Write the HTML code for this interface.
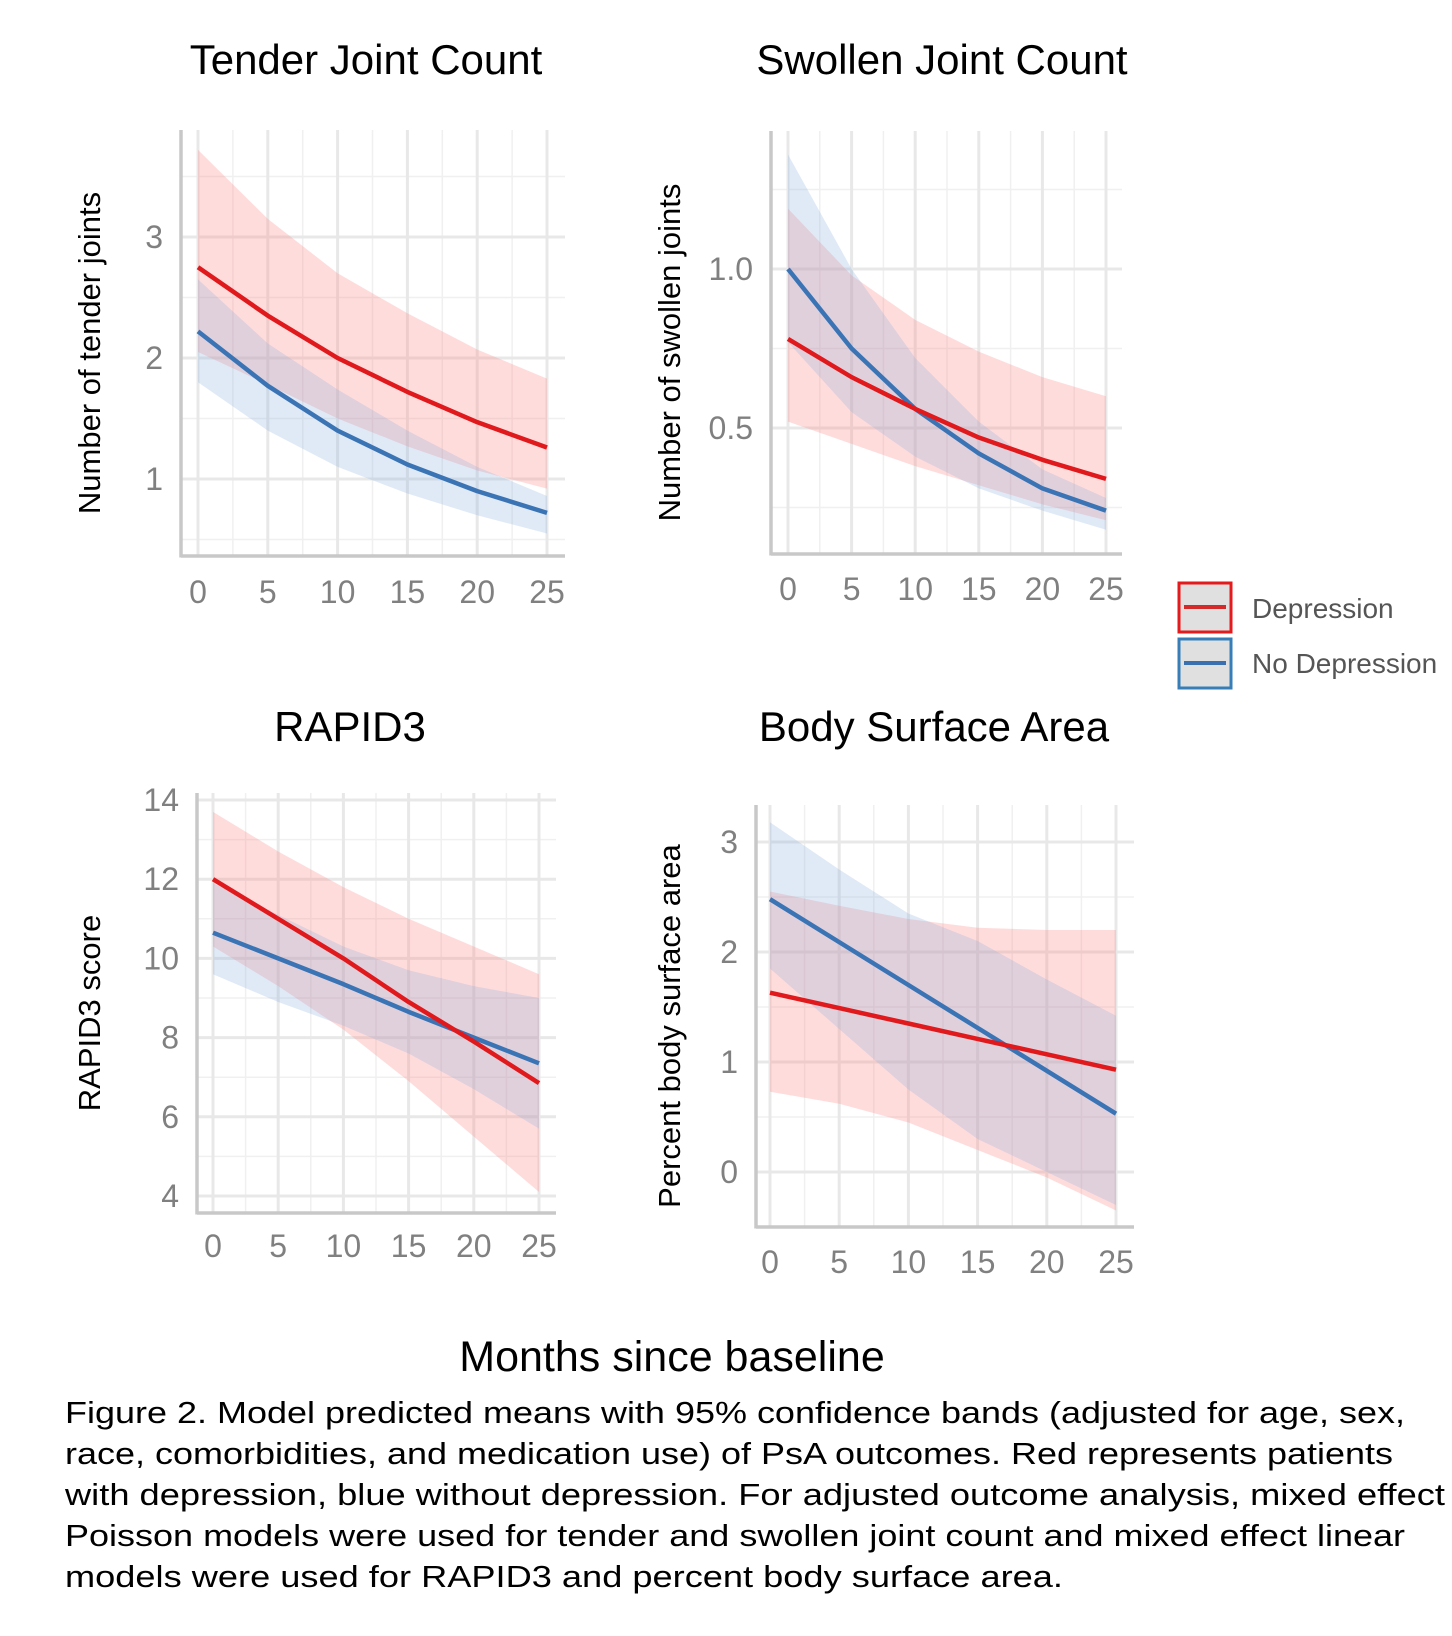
<!DOCTYPE html>
<html><head><meta charset="utf-8"><style>
html,body{margin:0;padding:0;background:#fff;}
svg{display:block;font-family:"Liberation Sans",Arial,sans-serif;}
</style></head><body>
<svg id="fig" width="1452" height="1636" viewBox="0 0 1452 1636">
<g id="panels"></g>
<g>
 <rect x="1179" y="583" width="52" height="49" fill="#e0e0e0" stroke="#e41a1c" stroke-width="3"/>
 <line x1="1184" y1="607" x2="1226" y2="607" stroke="#d42a2a" stroke-width="4"/>
 <rect x="1179" y="639" width="52" height="49" fill="#e0e0e0" stroke="#377eb8" stroke-width="3"/>
 <line x1="1184" y1="663" x2="1226" y2="663" stroke="#3a6fb0" stroke-width="4"/>
 <text x="1252" y="618" font-size="28" fill="#555">Depression</text>
 <text x="1252" y="673" font-size="28" fill="#555">No Depression</text>
</g>
<text x="672" y="1371" font-size="43" text-anchor="middle" fill="#000">Months since baseline</text>
<g font-size="31" fill="#000">
 <text x="65" y="1423" textLength="1340" lengthAdjust="spacingAndGlyphs">Figure 2. Model predicted means with 95% confidence bands (adjusted for age, sex,</text>
 <text x="65" y="1464" textLength="1328" lengthAdjust="spacingAndGlyphs">race, comorbidities, and medication use) of PsA outcomes. Red represents patients</text>
 <text x="65" y="1505" textLength="1380" lengthAdjust="spacingAndGlyphs">with depression, blue without depression.  For adjusted outcome analysis, mixed effect</text>
 <text x="65" y="1546" textLength="1340" lengthAdjust="spacingAndGlyphs">Poisson models were used for tender and swollen joint count and mixed effect linear</text>
 <text x="65" y="1587" textLength="998" lengthAdjust="spacingAndGlyphs">models were used for RAPID3 and percent body surface area.</text>
</g>
</svg>
<script>
const months = [0,5,10,15,20,25];
// Tender joint count
const tjcDep = [2.75,2.35,2.0,1.72,1.47,1.26];
const tjcDepHi = [3.72,3.15,2.7,2.37,2.07,1.83];
const tjcDepLo = [2.05,1.78,1.5,1.27,1.07,0.92];
const tjcNo = [2.22,1.77,1.4,1.12,0.9,0.72];
const tjcNoHi = [2.65,2.12,1.74,1.4,1.1,0.86];
const tjcNoLo = [1.8,1.4,1.1,0.88,0.7,0.55];
const tjcTicks = [1,2,3];
// Swollen joint count
const sjcDep = [0.78,0.66,0.56,0.47,0.4,0.34];
const sjcDepHi = [1.19,0.98,0.84,0.74,0.66,0.6];
const sjcDepLo = [0.52,0.45,0.38,0.32,0.26,0.21];
const sjcNo = [1.0,0.75,0.56,0.42,0.31,0.24];
const sjcNoHi = [1.36,1.0,0.72,0.52,0.37,0.28];
const sjcNoLo = [0.77,0.55,0.41,0.31,0.24,0.18];
const sjcTicks = [0.5,1.0];
// RAPID3
const rapDep = [12.0,11.0,10.0,8.9,7.9,6.85];
const rapDepHi = [13.7,12.7,11.8,11.0,10.3,9.6];
const rapDepLo = [10.3,9.3,8.2,6.9,5.5,4.1];
const rapNo = [10.65,10.0,9.35,8.65,8.0,7.35];
const rapNoHi = [11.9,11.1,10.3,9.7,9.3,9.0];
const rapNoLo = [9.6,8.9,8.3,7.6,6.7,5.7];
const rapTicks = [4,6,8,10,12,14];
// Body surface area
const bsaDep = [1.63,1.49,1.35,1.21,1.07,0.93];
const bsaDepHi = [2.55,2.42,2.3,2.22,2.2,2.2];
const bsaDepLo = [0.73,0.62,0.45,0.2,-0.05,-0.35];
const bsaNo = [2.48,2.09,1.7,1.31,0.92,0.53];
const bsaNoHi = [3.18,2.75,2.35,2.1,1.75,1.42];
const bsaNoLo = [1.85,1.3,0.75,0.3,0.0,-0.3];
const bsaTicks = [0,1,2,3];
const xTicks = [0,5,10,15,20,25];

const NS='http://www.w3.org/2000/svg';
function mk(tag,attrs,parent){const e=document.createElementNS(NS,tag);for(const k in attrs)e.setAttribute(k,attrs[k]);parent.appendChild(e);return e;}
const root=document.getElementById('panels');

const panels=[
 {key:'tender',title:'Tender Joint Count',tx:366,ty:74,ytitle:'Number of tender joints',ytx:100,
  ax:181,ab:556,top:130,right:565,x0:198,x25:547,yv1:1,yp1:479,yv2:3,yp2:237,
  ticks:tjcTicks,fmt:v=>String(v),minor:[0.5,1.5,2.5,3.5],
  dep:tjcDep,depHi:tjcDepHi,depLo:tjcDepLo,no:tjcNo,noHi:tjcNoHi,noLo:tjcNoLo,xlab:592},
 {key:'swollen',title:'Swollen Joint Count',tx:942,ty:74,ytitle:'Number of swollen joints',ytx:680,
  ax:771,ab:554,top:131,right:1122,x0:788,x25:1106,yv1:0.5,yp1:428,yv2:1.0,yp2:269,
  ticks:sjcTicks,fmt:v=>v.toFixed(1),minor:[0.25,0.75,1.25],
  dep:sjcDep,depHi:sjcDepHi,depLo:sjcDepLo,no:sjcNo,noHi:sjcNoHi,noLo:sjcNoLo,xlab:589},
 {key:'rapid3',title:'RAPID3',tx:350,ty:741,ytitle:'RAPID3 score',ytx:100,
  ax:197,ab:1213,top:793,right:556,x0:213,x25:539,yv1:4,yp1:1196,yv2:14,yp2:800,
  ticks:rapTicks,fmt:v=>String(v),minor:[5,7,9,11,13],
  dep:rapDep,depHi:rapDepHi,depLo:rapDepLo,no:rapNo,noHi:rapNoHi,noLo:rapNoLo,xlab:1246},
 {key:'bsa',title:'Body Surface Area',tx:934,ty:741,ytitle:'Percent body surface area',ytx:680,
  ax:756,ab:1227,top:805,right:1134,x0:770,x25:1116,yv1:0,yp1:1172,yv2:3,yp2:842,
  ticks:bsaTicks,fmt:v=>String(v),minor:[-0.5,0.5,1.5,2.5],
  dep:bsaDep,depHi:bsaDepHi,depLo:bsaDepLo,no:bsaNo,noHi:bsaNoHi,noLo:bsaNoLo,xlab:1262}
];

panels.forEach(p=>{
 const g=mk('g',{},root);
 
 
 const X=v=>p.x0+(v-months[0])*(p.x25-p.x0)/25;
 const Y=v=>p.yp1+(v-p.yv1)*(p.yp2-p.yp1)/(p.yv2-p.yv1);
 const gl=mk('g',{},g);
 
 
 p.minor.forEach(v=>{const y=Y(v);if(y>p.top&&y<p.ab)mk('line',{x1:p.ax,x2:p.right,y1:y,y2:y,stroke:'#f0f0f0','stroke-width':1.5},gl);});
 [2.5,7.5,12.5,17.5,22.5].forEach(v=>mk('line',{x1:X(v),x2:X(v),y1:p.top,y2:p.ab,stroke:'#f0f0f0','stroke-width':1.5},gl));
 p.ticks.forEach(v=>mk('line',{x1:p.ax,x2:p.right,y1:Y(v),y2:Y(v),stroke:'#e8e8e8','stroke-width':3},gl));
 xTicks.forEach(v=>mk('line',{x1:X(v),x2:X(v),y1:p.top,y2:p.ab,stroke:'#e8e8e8','stroke-width':3},gl));
 const band=(hi,lo,fill,name)=>{
  let d='M'+months.map((m,i)=>X(m)+','+Y(hi[i])).join(' L');
  d+=' L'+months.slice().reverse().map((m,j)=>{const i=months.length-1-j;return X(m)+','+Y(lo[i]);}).join(' L')+' Z';
  const e=mk('path',{d:d,fill:fill},g);
  
  
 };
 band(p.depHi,p.depLo,'rgba(255,140,140,0.3)','band-depression');
 band(p.noHi,p.noLo,'rgba(130,170,220,0.25)','band-no-depression');
 const line=(vals,col,name)=>{
  const e=mk('polyline',{points:months.map((m,i)=>X(m)+','+Y(vals[i])).join(' '),fill:'none',stroke:col,'stroke-width':4.5,'stroke-linejoin':'round'},g);
  
  
 };
 line(p.no,'#3a74b5','line-no-depression');
 line(p.dep,'#e0191c','line-depression');
 mk('line',{x1:p.ax,x2:p.ax,y1:p.top,y2:p.ab+1.5,stroke:'#c8c8c8','stroke-width':3.5},g);
 mk('line',{x1:p.ax,x2:p.right,y1:p.ab,y2:p.ab,stroke:'#c8c8c8','stroke-width':3.5},g);
 p.ticks.forEach(v=>{
  const t=mk('text',{x:p.ax-18,y:Y(v)+11,'font-size':32,'text-anchor':'end',fill:'#808080'},g);
  t.textContent=p.fmt(v);
  
  
 });
 xTicks.forEach(v=>{
  const t=mk('text',{x:X(v),y:p.xlab+11,'font-size':32,'text-anchor':'middle',fill:'#808080'},g);
  t.textContent=String(v);
  
  
 });
 const tt=mk('text',{x:p.tx,y:p.ty,'font-size':42,'text-anchor':'middle',fill:'#000'},g);
 tt.textContent=p.title;
 
 
 const cy=(p.top+p.ab)/2+10;
 const yt=mk('text',{x:p.ytx,y:cy,'font-size':31,'text-anchor':'middle',fill:'#000',transform:'rotate(-90 '+p.ytx+' '+cy+')'},g);
 yt.textContent=p.ytitle;
 
 
});
</script>
</body></html>
